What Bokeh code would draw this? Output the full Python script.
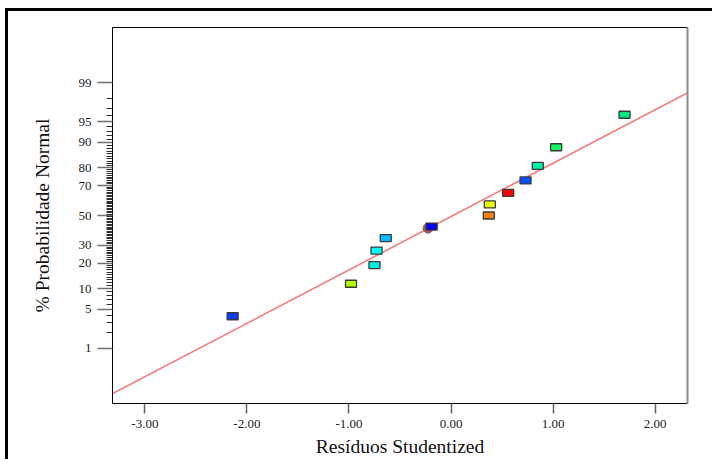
from statistics import NormalDist

from bokeh.plotting import figure
from bokeh.models import Range1d, FixedTicker, LinearAxis, PrintfTickFormatter
from bokeh.embed import file_html
from bokeh.resources import INLINE

# ---------------- data ----------------
residuals = [-2.14, -0.98, -0.75, -0.73, -0.64, -0.19, 0.37, 0.38, 0.56, 0.73, 0.85, 1.03, 1.70]
probabilities = [3.85, 11.54, 19.23, 26.92, 34.62, 42.31, 50.0, 57.69, 65.38, 73.08, 80.77, 88.46, 96.15]
point_colors = ["#0a3cff", "#b4ff00", "#00eedd", "#00ffff", "#00bfff", "#0000ff", "#ff8000",
                "#e8ff00", "#ff0000", "#0050ff", "#00f0a8", "#00ff60", "#00e880"]

circle_residual = [-0.225]
circle_probability = [41.2]

fit_residual = [-3.32, 2.32]
fit_probability = [0.087, 98.45]

y_tick_percents = [1, 5, 10, 20, 30, 50, 70, 80, 90, 95, 99]
y_minor_percents = [p for p in range(2, 99) if p not in y_tick_percents]
x_ticks = [-3, -2, -1, 0, 1, 2]

x_title = "Resíduos Studentized"
y_title = "% Probabilidade Normal"

# ---------------- normal-probability scale ----------------
nd = NormalDist()


def probit(p):
    return nd.inv_cdf(p / 100.0)


SERIF = "Liberation Serif"

p = figure(width=707, height=451,
           x_range=Range1d(-3.317, 2.317), y_range=Range1d(-3.30, 3.30),
           output_backend="svg", toolbar_location=None,
           min_border_left=104, min_border_right=28, min_border_top=16, min_border_bottom=59)
p.styles = {"margin-left": "8px", "margin-top": "11px", "box-shadow": "-3px -3px 0 0 #000"}
p.outline_line_color = None
p.xgrid.visible = False
p.ygrid.visible = False
p.background_fill_color = "white"
p.border_fill_color = "white"

# fitted line
p.line(fit_residual, [probit(v) for v in fit_probability],
       line_color="#f47c7c", line_width=1.6)

# centre point (circle) underneath
p.scatter(circle_residual, [probit(v) for v in circle_probability], marker="circle", size=10,
          fill_color="#a8504c", line_color="#707070", line_width=1)

# design points
p.rect(x=residuals, y=[probit(v) for v in probabilities], width=11, height=7,
       width_units="screen", height_units="screen",
       fill_color=point_colors, line_color="#3a3a3a", line_width=1.3)

# ---------------- axes ----------------
ya = p.yaxis[0]
ya.ticker = FixedTicker(ticks=[probit(v) for v in y_tick_percents],
                        minor_ticks=[probit(v) for v in y_minor_percents])
ya.major_label_overrides = {probit(v): str(v) for v in y_tick_percents}
ya.axis_line_color = "black"
ya.axis_line_width = 1
ya.major_tick_out = 15
ya.major_tick_in = 0
ya.major_tick_line_color = "#707070"
ya.major_tick_line_width = 1.5
ya.minor_tick_out = 6
ya.minor_tick_in = 0
ya.minor_tick_line_color = "#303030"
ya.minor_tick_line_width = 1
ya.major_label_standoff = 6
ya.major_label_text_font = SERIF
ya.major_label_text_font_size = "13px"
ya.major_label_text_color = "#222222"
ya.axis_label = y_title
ya.axis_label_text_font = SERIF
ya.axis_label_text_font_size = "19.5px"
ya.axis_label_text_font_style = "normal"
ya.axis_label_text_color = "#111111"
ya.axis_label_standoff = 23

xa = p.xaxis[0]
xa.ticker = FixedTicker(ticks=x_ticks)
xa.formatter = PrintfTickFormatter(format="%.2f")
xa.axis_line_color = "black"
xa.axis_line_width = 1
xa.major_tick_out = 10
xa.major_tick_in = 0
xa.major_tick_line_color = "#606060"
xa.major_tick_line_width = 1.5
xa.minor_tick_line_color = None
xa.major_label_standoff = 6
xa.major_label_text_font = SERIF
xa.major_label_text_font_size = "13px"
xa.major_label_text_color = "#222222"
xa.axis_label = x_title
xa.axis_label_text_font = SERIF
xa.axis_label_text_font_size = "19.5px"
xa.axis_label_text_font_style = "normal"
xa.axis_label_text_color = "#111111"
xa.axis_label_standoff = 5

top_axis = LinearAxis(ticker=FixedTicker(ticks=[]), axis_line_color="black", axis_line_width=1,
                      major_tick_line_color=None, minor_tick_line_color=None,
                      major_label_text_font_size="0px")
right_axis = LinearAxis(ticker=FixedTicker(ticks=[]), axis_line_color="#8c8c8c", axis_line_width=2,
                        major_tick_line_color=None, minor_tick_line_color=None,
                        major_label_text_font_size="0px")
p.add_layout(top_axis, "above")
p.add_layout(right_axis, "right")

open("out.html", "w").write(file_html(p, INLINE))
